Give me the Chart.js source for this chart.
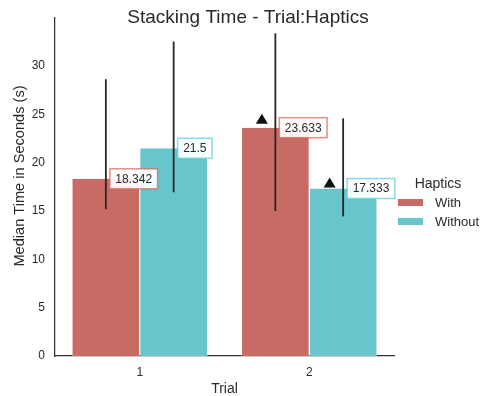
<!DOCTYPE html>
<html>
<head>
<meta charset="utf-8">
<script src="https://cdn.jsdelivr.net/npm/chart.js@4/dist/chart.umd.min.js"></script>
<style>
  html, body { margin: 0; padding: 0; background: #ffffff; }
  #wrap { width: 480px; height: 396px; }
</style>
</head>
<body>
<div id="wrap"><canvas id="c" width="480" height="396"></canvas></div>
<script>
// Median stacking time per trial, with and without haptic feedback
const trials = ['1', '2'];
const withValues = [18.342, 23.633];
const withoutValues = [21.5, 17.333];

// Error bar extents (seconds)
const withLow = [15.2, 15.0];
const withHigh = [28.65, 33.4];
const withoutLow = [16.95, 14.45];
const withoutHigh = [32.55, 24.6];

// Significance markers (seconds; null = none)
const withMarks = [null, 24.5];
const withoutMarks = [null, 17.9];

const yTicks = [0, 5, 10, 15, 20, 25, 30];

const WITH_COLOR = '#c96b65';
const WITHOUT_COLOR = '#67c5cb';
const WITH_EDGE = 'rgba(219, 95, 87, 0.7)';
const WITHOUT_EDGE = 'rgba(87, 211, 219, 0.75)';
const FONT = "'Liberation Sans', Arial, Helvetica, sans-serif";
const INK = '#2a2a2a';

const yMax = Math.max(...withHigh, ...withoutHigh) * 1.05;

const errorBars = {
  id: 'errorBars',
  afterDatasetsDraw(chart) {
    const { ctx } = chart;
    const y = chart.scales.y;
    chart.data.datasets.forEach((ds, i) => {
      const meta = chart.getDatasetMeta(i);
      meta.data.forEach((bar, j) => {
        const lo = ds.errLow[j], hi = ds.errHigh[j];
        ctx.save();
        ctx.strokeStyle = '#262626';
        ctx.lineWidth = 1.8;
        ctx.beginPath();
        ctx.moveTo(bar.x, y.getPixelForValue(lo));
        ctx.lineTo(bar.x, y.getPixelForValue(hi));
        ctx.stroke();
        ctx.restore();
      });
    });
  }
};

const markers = {
  id: 'markers',
  afterDatasetsDraw(chart) {
    const { ctx } = chart;
    const y = chart.scales.y;
    chart.data.datasets.forEach((ds, i) => {
      const meta = chart.getDatasetMeta(i);
      meta.data.forEach((bar, j) => {
        const m = ds.marks[j];
        if (m === null || m === undefined) return;
        const cx = bar.x - 13.5;
        const cy = y.getPixelForValue(m);
        ctx.save();
        ctx.fillStyle = '#111111';
        ctx.beginPath();
        ctx.moveTo(cx, cy - 5.5);
        ctx.lineTo(cx + 6, cy + 4.5);
        ctx.lineTo(cx - 6, cy + 4.5);
        ctx.closePath();
        ctx.fill();
        ctx.restore();
      });
    });
  }
};

const valueLabels = {
  id: 'valueLabels',
  afterDatasetsDraw(chart) {
    const { ctx } = chart;
    const y = chart.scales.y;
    chart.data.datasets.forEach((ds, i) => {
      const meta = chart.getDatasetMeta(i);
      meta.data.forEach((bar, j) => {
        const v = ds.data[j];
        const text = String(v);
        ctx.save();
        ctx.font = '12px ' + FONT;
        const tw = ctx.measureText(text).width;
        const bx = bar.x + 4;
        const by = y.getPixelForValue(v);
        const w = tw + 11, h = 20;
        ctx.fillStyle = 'rgba(255,255,255,0.92)';
        ctx.fillRect(bx, by - h / 2, w, h);
        ctx.strokeStyle = ds.labelEdge;
        ctx.lineWidth = 1.5;
        ctx.strokeRect(bx, by - h / 2, w, h);
        ctx.fillStyle = INK;
        ctx.textBaseline = 'middle';
        ctx.textAlign = 'left';
        ctx.fillText(text, bx + 5.5, by + 0.5);
        ctx.restore();
      });
    });
  }
};

const titlesAndLegend = {
  id: 'titlesAndLegend',
  afterDraw(chart) {
    const { ctx } = chart;
    ctx.save();
    ctx.fillStyle = INK;
    ctx.textBaseline = 'middle';
    ctx.textAlign = 'center';
    ctx.font = '19px ' + FONT;
    ctx.fillText('Stacking Time - Trial:Haptics', 248, 18);

    // y-axis title
    ctx.save();
    ctx.translate(20, 176);
    ctx.rotate(-Math.PI / 2);
    ctx.font = '14.6px ' + FONT;
    ctx.fillText('Median Time in Seconds (s)', 0, 0);
    ctx.restore();

    ctx.font = '14px ' + FONT;
    ctx.fillText('Haptics', 438, 184);

    ctx.textAlign = 'left';
    ctx.font = '13px ' + FONT;
    chart.data.datasets.forEach((ds, i) => {
      const ry = 199 + i * 19;
      ctx.fillStyle = ds.backgroundColor;
      ctx.fillRect(398, ry, 25, 7);
      ctx.fillStyle = INK;
      ctx.fillText(ds.label, 435, ry + 4);
    });
    ctx.restore();
  }
};

const barBorder = { top: 0, bottom: 0, left: 0.6, right: 0.6 };

new Chart(document.getElementById('c'), {
  type: 'bar',
  data: {
    labels: trials,
    datasets: [
      {
        label: 'With',
        data: withValues,
        backgroundColor: WITH_COLOR,
        borderColor: 'rgba(255,255,255,0.7)',
        borderWidth: barBorder,
        errLow: withLow,
        errHigh: withHigh,
        marks: withMarks,
        labelEdge: WITH_EDGE
      },
      {
        label: 'Without',
        data: withoutValues,
        backgroundColor: WITHOUT_COLOR,
        borderColor: 'rgba(255,255,255,0.7)',
        borderWidth: barBorder,
        errLow: withoutLow,
        errHigh: withoutHigh,
        marks: withoutMarks,
        labelEdge: WITHOUT_EDGE
      }
    ]
  },
  options: {
    responsive: false,
    animation: false,
    devicePixelRatio: 1,
    categoryPercentage: 0.8,
    barPercentage: 1.0,
    layout: { padding: { top: 17, right: 86, left: 0, bottom: 0 } },
    plugins: {
      legend: { display: false },
      title: { display: false },
      tooltip: { enabled: false }
    },
    scales: {
      x: {
        offset: true,
        grid: { display: false, drawTicks: false },
        border: { display: true, color: '#333333', width: 1.25 },
        ticks: { color: INK, font: { family: FONT, size: 12 }, padding: 9 },
        title: {
          display: true, text: 'Trial', color: INK,
          font: { family: FONT, size: 14, lineHeight: 1 },
          padding: { top: 0, bottom: 0 }
        },
        afterFit(s) { s.height = 40; }
      },
      y: {
        min: 0,
        max: yMax,
        grid: { display: false, drawTicks: false },
        border: { display: true, color: '#333333', width: 1.25 },
        ticks: { color: INK, font: { family: FONT, size: 12 }, padding: 10 },
        afterBuildTicks(s) { s.ticks = yTicks.map(v => ({ value: v })); },
        afterFit(s) { s.width = 55; }
      }
    }
  },
  plugins: [errorBars, markers, valueLabels, titlesAndLegend]
});
</script>
</body>
</html>
